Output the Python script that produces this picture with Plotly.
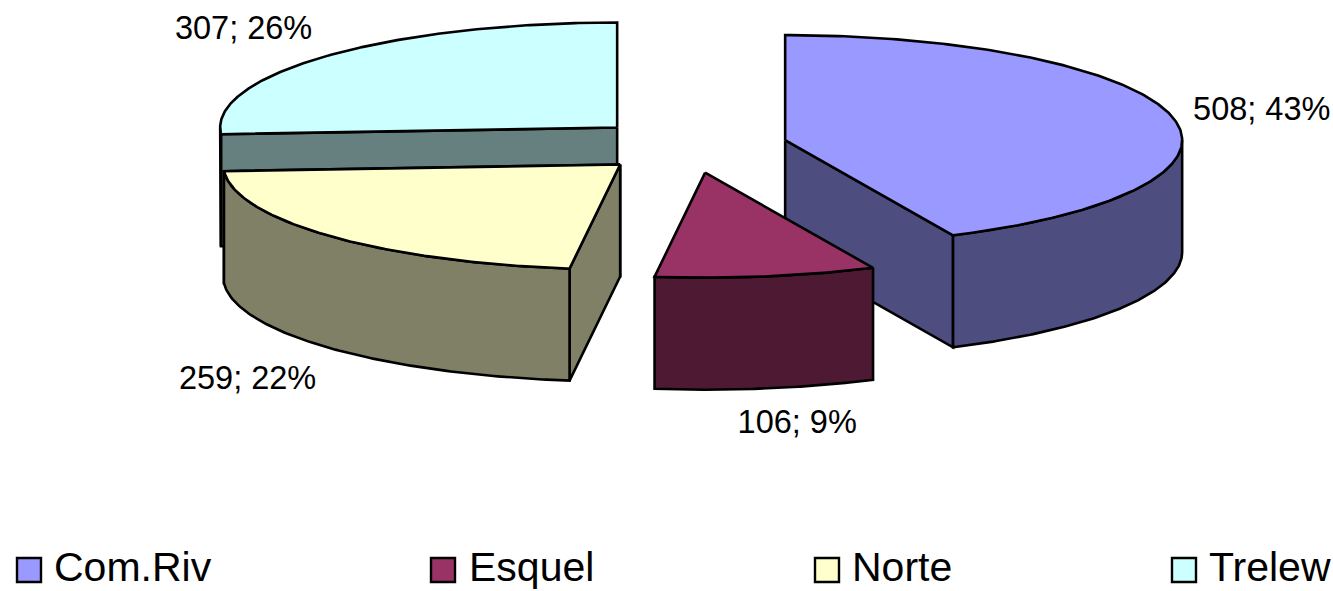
import numpy as np
import plotly.graph_objects as go

categories = ["Com.Riv", "Esquel", "Norte", "Trelew"]
values = [508, 106, 259, 307]
top_colors = ["#9999FF", "#993366", "#FFFFCC", "#CCFFFF"]
side_colors = ["#4D4D80", "#4D1933", "#808066", "#668080"]
label_offsets = [(89, -6), (32, 36), (-80, 33), (-84, -25)]
slice_nudge_x = [0, 1, 3, 0]
legend_x = [29, 443, 827, 1184]
legend_text_x = [54, 469, 852, 1209]
draw_order = [3, 0, 2, 1]

W, H = 1333, 591
CX, CY = 689, 146
RX, RY = 397, 105
DEPTH = 112
EX, EY = 98.5, 27
LINE = dict(color="black", width=2.6)
FONT = "Liberation Sans, Arial, sans-serif"

total = sum(values)
fracs = np.array(values) / total
ends = np.cumsum(fracs) * 2 * np.pi
starts = ends - fracs * 2 * np.pi


def pt(ax, ay, a):
    return ax + RX * np.sin(a), ay - RY * np.cos(a)


def poly(fig, xs, ys, color):
    fig.add_trace(go.Scatter(x=list(xs) + [xs[0]], y=list(ys) + [ys[0]], mode="lines",
                             fill="toself", fillcolor=color, line=LINE,
                             hoverinfo="skip", showlegend=False))


fig = go.Figure()
for i in draw_order:
    s, e = starts[i], ends[i]
    mid = (s + e) / 2
    ax = CX + EX * np.sin(mid) + slice_nudge_x[i]
    ay = CY - EY * np.cos(mid)
    # radial wall facing the viewer
    if np.cos(e) < 0 and np.sin(e) < 0 and e > 1.4 * np.pi:
        x1, y1 = pt(ax, ay, e)
        poly(fig, [ax, x1, x1, ax], [ay, y1, y1 + DEPTH, ay + DEPTH], side_colors[i])
    if np.sin(s) < 0 or (np.sin(e) > 0 and np.cos(e) < 0 and s < np.pi / 2):
        r = e if s < np.pi / 2 else s
        x1, y1 = pt(ax, ay, r)
        poly(fig, [ax, x1, x1, ax], [ay, y1, y1 + DEPTH, ay + DEPTH], side_colors[i])
    # outer wall (front half of the rim)
    a0, a1 = max(s, np.pi / 2), min(e, 1.5 * np.pi)
    if a1 > a0:
        t = np.linspace(a0, a1, 120)
        xr, yr = pt(ax, ay, t)
        poly(fig, list(xr) + list(xr[::-1]), list(yr) + list(yr[::-1] + DEPTH), side_colors[i])
    # top face
    t = np.linspace(s, e, 200)
    xr, yr = pt(ax, ay, t)
    poly(fig, [ax] + list(xr), [ay] + list(yr), top_colors[i])

# data labels
for i in range(4):
    mid = (starts[i] + ends[i]) / 2
    ax = CX + EX * np.sin(mid)
    ay = CY - EY * np.cos(mid)
    x0, y0 = pt(ax, ay, mid)
    if np.cos(mid) < 0:
        y0 += DEPTH
    dx, dy = label_offsets[i]
    fig.add_trace(go.Scatter(x=[x0 + dx], y=[y0 + dy], mode="text",
                             text=[f"{values[i]}; {round(100 * fracs[i])}%"],
                             textposition="middle center",
                             textfont=dict(family=FONT, size=32.5, color="black"),
                             hoverinfo="skip", showlegend=False))

# legend row
for i, name in enumerate(categories):
    fig.add_trace(go.Scatter(x=[legend_x[i]], y=[570], mode="markers",
                             marker=dict(symbol="square", size=24, color=top_colors[i],
                                         line=dict(color="black", width=2.4)),
                             hoverinfo="skip", showlegend=False))
    fig.add_trace(go.Scatter(x=[legend_text_x[i]], y=[571], mode="text",
                             text=[name], textposition="middle right",
                             textfont=dict(family=FONT, size=41, color="black"),
                             hoverinfo="skip", showlegend=False))

fig.update_layout(
    width=W, height=H, autosize=False, margin=dict(l=0, r=0, t=0, b=0),
    paper_bgcolor="white", plot_bgcolor="white", showlegend=False,
    xaxis=dict(range=[0, W], visible=False, fixedrange=True),
    yaxis=dict(range=[H, 0], visible=False, fixedrange=True),
)
fig.write_html("out.html", config=dict(displayModeBar=False),
               post_script="document.body.style.margin='0';document.documentElement.style.overflow='hidden';")
